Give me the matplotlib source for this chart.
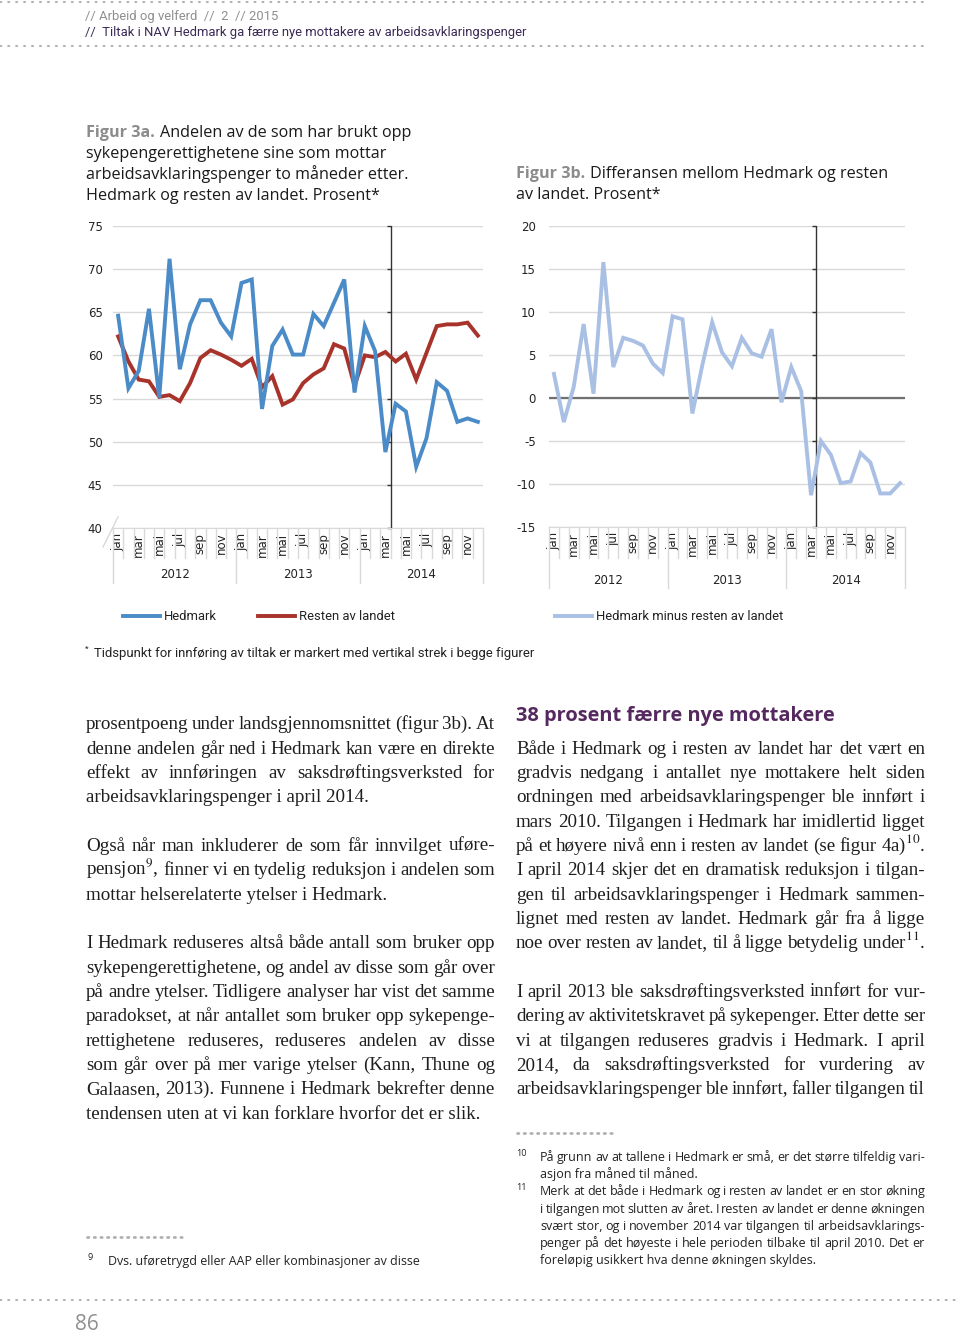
import numpy as np
import matplotlib
matplotlib.use('Agg')
import matplotlib.pyplot as plt
from matplotlib.lines import Line2D
from matplotlib import font_manager

# ------------------------------------------------------------------ data
maaneder = ['jan', 'feb', 'mar', 'apr', 'mai', 'jun',
            'jul', 'aug', 'sep', 'okt', 'nov', 'des'] * 3
aar = ['2012', '2013', '2014']

hedmark = [64.6, 56.2, 58.2, 65.4, 55.1, 71.2, 58.4, 63.6, 66.4, 66.4, 63.8, 62.2,
           68.4, 68.8, 53.8, 61.1, 63.0, 60.1, 60.1, 64.8, 63.4, 66.1, 68.8, 55.7,
           63.4, 60.5, 48.8, 54.4, 53.5, 47.1, 50.4, 56.9, 55.9, 52.3, 52.7, 52.3]
resten = [62.2, 59.3, 57.2, 57.0, 55.2, 55.4, 54.7, 56.8, 59.7, 60.6, 60.1, 59.5,
          58.8, 59.6, 56.3, 57.6, 54.3, 54.9, 56.8, 57.8, 58.5, 61.3, 60.8, 56.5,
          60.0, 59.8, 60.4, 59.3, 60.2, 57.2, 60.3, 63.4, 63.6, 63.6, 63.8, 62.3]
differanse = [2.8, -2.8, 1.3, 8.6, 0.5, 15.8, 3.6, 7.0, 6.65, 6.1, 4.0, 2.9,
              9.5, 9.15, -1.8, 3.8, 8.8, 5.3, 3.7, 7.0, 5.2, 4.8, 8.0, -0.5,
              3.6, 0.8, -11.3, -5.0, -6.6, -9.9, -9.7, -6.4, -7.5, -11.1, -11.1, -9.9]
tiltak = 26.5   # between mar and apr 2014

# ------------------------------------------------------------------ setup
plt.rcParams['axes.unicode_minus'] = False
plt.rcParams['mathtext.fontset'] = 'stix'

avail = {f.name for f in font_manager.fontManager.ttflist}
def pick(*names):
    for n in names:
        if n in avail:
            return n
    return 'DejaVu Sans'

NARROW = pick('Liberation Sans Narrow', 'Roboto', 'Lato')
SANS = pick('Open Sans', 'Lato', 'Noto Sans')
FOOT = pick('Open Sans', 'Noto Sans', 'Roboto')
SERIF = pick('Liberation Serif', 'DejaVu Serif')
CHART = 'DejaVu Sans'

W, H = 960, 1334
fig = plt.figure(figsize=(W / 100, H / 100), dpi=100)
fig.patch.set_facecolor('white')
REND = fig.canvas.get_renderer()

def fx(x): return x / W
def fy(y): return 1 - y / H

def txt(x, y, s, **kw):
    kw.setdefault('va', 'baseline')
    return fig.text(fx(x), fy(y), s, **kw)

def width(t):
    return t.get_window_extent(REND).width

def fit(s, target, **kw):
    t = fig.text(0, 0, s, fontsize=10, **kw)
    w = width(t)
    t.remove()
    return 10 * target / w

def para_line(x0, x1, y, line, justify, **kw):
    if not justify:
        return txt(x0, y, line, **kw)
    words = line.split(' ')
    ts = [txt(x0, y, w, **kw) for w in words]
    ws = [width(t) for t in ts]
    gap = max(2.0, (x1 - x0 - sum(ws)) / (len(words) - 1))
    x = x0
    for t, w in zip(ts, ws):
        t.set_x(fx(x))
        x += w + gap

def hline(x0, x1, y, **kw):
    fig.add_artist(Line2D([fx(x0), fx(x1)], [fy(y), fy(y)],
                          transform=fig.transFigure, **kw))

# ------------------------------------------------------------------ page header
DOT = dict(color='#9a9a9a', lw=1.1, linestyle=(0, (1, 4.2)), dash_capstyle='round')
hline(0, 925, 2, **DOT)
hline(0, 925, 46, **DOT)
hline(0, 960, 1300, **DOT)

s1 = '// Arbeid og velferd  //  2  // 2015'
s2 = '//  Tiltak i NAV Hedmark ga færre nye mottakere av arbeidsavklaringspenger'
fs_h = fit(s2, 442, family=NARROW)
txt(85, 20, s1, fontsize=fs_h, family=NARROW, color='#8f8f8f')
txt(85, 36, s2, fontsize=fs_h, family=NARROW, color='#3a2a55')

# ------------------------------------------------------------------ figure titles
fs_t = fit('arbeidsavklaringspenger to måneder etter.', 321, family=SANS)
def title_first(x, y, lab, rest):
    t = txt(x, y, lab, fontsize=fs_t, family=SANS, weight='bold', color='#8c8c8c')
    txt(x + width(t) + 5, y, rest, fontsize=fs_t, family=SANS, color='#1a1a1a')

title_first(86, 137, 'Figur 3a.', 'Andelen av de som har brukt opp')
for i, s in enumerate(['sykepengerettighetene sine som mottar',
                       'arbeidsavklaringspenger to måneder etter.',
                       'Hedmark og resten av landet. Prosent*']):
    txt(86, 158 + 21 * i, s, fontsize=fs_t, family=SANS, color='#1a1a1a')
title_first(516, 178, 'Figur 3b.', 'Differansen mellom Hedmark og resten')
txt(516, 199, 'av landet. Prosent*', fontsize=fs_t, family=SANS, color='#1a1a1a')

# ------------------------------------------------------------------ charts
BLUE = '#4b8bc8'
RED = '#a8332b'
LIGHT = '#a9c0e4'
GRID = '#d9d9d9'
AXC = '#333333'
LW = 2.8
x = np.arange(36)

def style(ax, ylo, yhi, ypad, axh, sep_m, sep_y, ylab):
    ax.set_xlim(-0.5, 35.5)
    ax.set_ylim(ylo, yhi)
    ax.set_yticks(np.arange(ylo, yhi + 1, 5))
    ax.yaxis.grid(True, color=GRID, lw=1)
    ax.set_axisbelow(True)
    for s in ['left', 'right', 'top']:
        ax.spines[s].set_visible(False)
    ax.spines['bottom'].set_color(GRID)
    ax.tick_params(axis='y', length=0, pad=ypad, labelsize=8.5, labelcolor='#222')
    ax.tick_params(axis='x', length=0, pad=3.5, labelsize=8.5, labelcolor='#222')
    idx = list(range(0, 36, 2))
    ax.set_xticks(idx, [maaneder[i] for i in idx], rotation=90)
    tr = ax.get_xaxis_transform()
    for b in np.arange(-0.5, 36, 1):
        yb = sep_y if (b + 0.5) % 12 == 0 else sep_m
        ax.plot([b, b], [0, -yb / axh], transform=tr, color=GRID, lw=1, clip_on=False)
    for k, a in enumerate(aar):
        ax.text(5.5 + 12 * k, -ylab / axh, a, transform=tr, ha='center', va='center',
                fontsize=8.5, color='#222', family=CHART)
    ax.axvline(tiltak, color=AXC, lw=1, zorder=2)
    yt = np.arange(ylo, yhi + 1, 5)
    ax.plot([tiltak] * len(yt), yt, ls='none', marker=0, ms=3, color=AXC,
            mew=1, zorder=2, clip_on=False)

# left chart
axL = fig.add_axes([fx(113), fy(528), 370 / W, 302 / H])
style(axL, 40, 75, 7.5, 302, 30, 55, 47)
axL.plot(x, resten, color=RED, lw=LW, zorder=3, solid_joinstyle='miter')
axL.plot(x, hedmark, color=BLUE, lw=LW, zorder=4, solid_joinstyle='miter')
fig.add_artist(Line2D([fx(103), fx(118)], [fy(547), fy(517)],
                      transform=fig.transFigure, color=GRID, lw=1))

# right chart
axR = fig.add_axes([fx(549), fy(527), 356 / W, 301 / H])
style(axR, -15, 20, 9.5, 301, 31, 61, 53)
axR.axhline(0, color='#707070', lw=1.6, zorder=1.5)
axR.plot(x, differanse, color=LIGHT, lw=LW, zorder=3, solid_joinstyle='miter')

# ------------------------------------------------------------------ legend
fs_l = fit('Hedmark minus resten av landet', 188, family=NARROW)
for x0, col, lab in [(123, BLUE, 'Hedmark'), (258, RED, 'Resten av landet'),
                     (555, LIGHT, 'Hedmark minus resten av landet')]:
    hline(x0, x0 + 37, 616, color=col, lw=LW)
    txt(x0 + 41, 616, lab, va='center', fontsize=fs_l, family=NARROW, color='#222')

note = 'Tidspunkt for innføring av tiltak er markert med vertikal strek i begge figurer'
txt(85, 649, '*', va='center', fontsize=6, family=NARROW, color='#222')
txt(94, 653, note, va='center', fontsize=fit(note, 443, family=NARROW),
    family=NARROW, color='#222')

# ------------------------------------------------------------------ body text
fs_b = fit('tendensen uten at vi kan forklare hvorfor det er slik.', 395, family=SERIF)
BODY = dict(fontsize=fs_b, family=SERIF, color='#1e1e1e')
BASE, STEP = 729.3, 24.33

left_lines = [
    ('prosentpoeng under landsgjennomsnittet (figur 3b). At', True),
    ('denne andelen går ned i Hedmark kan være en direkte', True),
    ('effekt av innføringen av saksdrøftingsverksted for', True),
    ('arbeidsavklaringspenger i april 2014.', False),
    None,
    ('Også når man inkluderer de som får innvilget uføre-', True),
    ('pensjon$^9$, finner vi en tydelig reduksjon i andelen som', True),
    ('mottar helserelaterte ytelser i Hedmark.', False),
    None,
    ('I Hedmark reduseres altså både antall som bruker opp', True),
    ('sykepengerettighetene, og andel av disse som går over', True),
    ('på andre ytelser. Tidligere analyser har vist det samme', True),
    ('paradokset, at når antallet som bruker opp sykepenge-', True),
    ('rettighetene reduseres, reduseres andelen av disse', True),
    ('som går over på mer varige ytelser (Kann, Thune og', True),
    ('Galaasen, 2013). Funnene i Hedmark bekrefter denne', True),
    ('tendensen uten at vi kan forklare hvorfor det er slik.', False),
]
right_lines = [
    None,
    ('Både i Hedmark og i resten av landet har det vært en', True),
    ('gradvis nedgang i antallet nye mottakere helt siden', True),
    ('ordningen med arbeidsavklaringspenger ble innført i', True),
    ('mars 2010. Tilgangen i Hedmark har imidlertid ligget', True),
    ('på et høyere nivå enn i resten av landet (se figur 4a)$^{10}$.', True),
    ('I april 2014 skjer det en dramatisk reduksjon i tilgan-', True),
    ('gen til arbeidsavklaringspenger i Hedmark sammen-', True),
    ('lignet med resten av landet. Hedmark går fra å ligge', True),
    ('noe over resten av landet, til å ligge betydelig under$^{11}$.', True),
    None,
    ('I april 2013 ble saksdrøftingsverksted innført for vur-', True),
    ('dering av aktivitetskravet på sykepenger. Etter dette ser', True),
    ('vi at tilgangen reduseres gradvis i Hedmark. I april', True),
    ('2014, da saksdrøftingsverksted for vurdering av', True),
    ('arbeidsavklaringspenger ble innført, faller tilgangen til', True),
]
for i, item in enumerate(left_lines):
    if item:
        para_line(86, 495, BASE + STEP * i, item[0], item[1], **BODY)
for i, item in enumerate(right_lines):
    if item:
        para_line(516, 925, BASE + STEP * i, item[0], item[1], **BODY)

head = '38 prosent færre nye mottakere'
txt(516, 721, head, fontsize=fit(head, 321, family=SANS, weight='bold'),
    family=SANS, weight='bold', color='#55285f')

# ------------------------------------------------------------------ footnotes
FDOT = dict(color='#b0b0b0', lw=2, linestyle=(0, (0.5, 1.9)), dash_capstyle='round')
hline(517, 612, 1133, **FDOT)
hline(87, 182, 1237, **FDOT)

fs_f = fit('foreløpig usikkert hva denne økningen skyldes.', 272, family=FOOT)
FN = dict(fontsize=fs_f, family=FOOT, color='#222')
fn_lines = [
    ('På grunn av at tallene i Hedmark er små, er det større tilfeldig vari-', True),
    ('asjon fra måned til måned.', False),
    ('Merk at det både i Hedmark og i resten av landet er en stor økning', True),
    ('i tilgangen mot slutten av året. I resten av landet er denne økningen', True),
    ('svært stor, og i november 2014 var tilgangen til arbeidsavklarings-', True),
    ('penger på det høyeste i hele perioden tilbake til april 2010. Det er', True),
    ('foreløpig usikkert hva denne økningen skyldes.', False),
]
for i, (s, j) in enumerate(fn_lines):
    para_line(540, 925, 1161 + 17.2 * i, s, j, **FN)
txt(516, 1156, '10', fontsize=6.5, family=FOOT, color='#222')
txt(516, 1190, '11', fontsize=6.5, family=FOOT, color='#222')

fn9 = 'Dvs. uføretrygd eller AAP eller kombinasjoner av disse'
txt(88, 1260, '9', fontsize=6.5, family=FOOT, color='#222')
txt(108, 1265, fn9, fontsize=fit(fn9, 312, family=FOOT), family=FOOT, color='#222')

txt(75, 1330, '86', fontsize=15, family=FOOT, color='#8f8f8f')

fig.savefig('out.png', dpi=100, facecolor='white')
